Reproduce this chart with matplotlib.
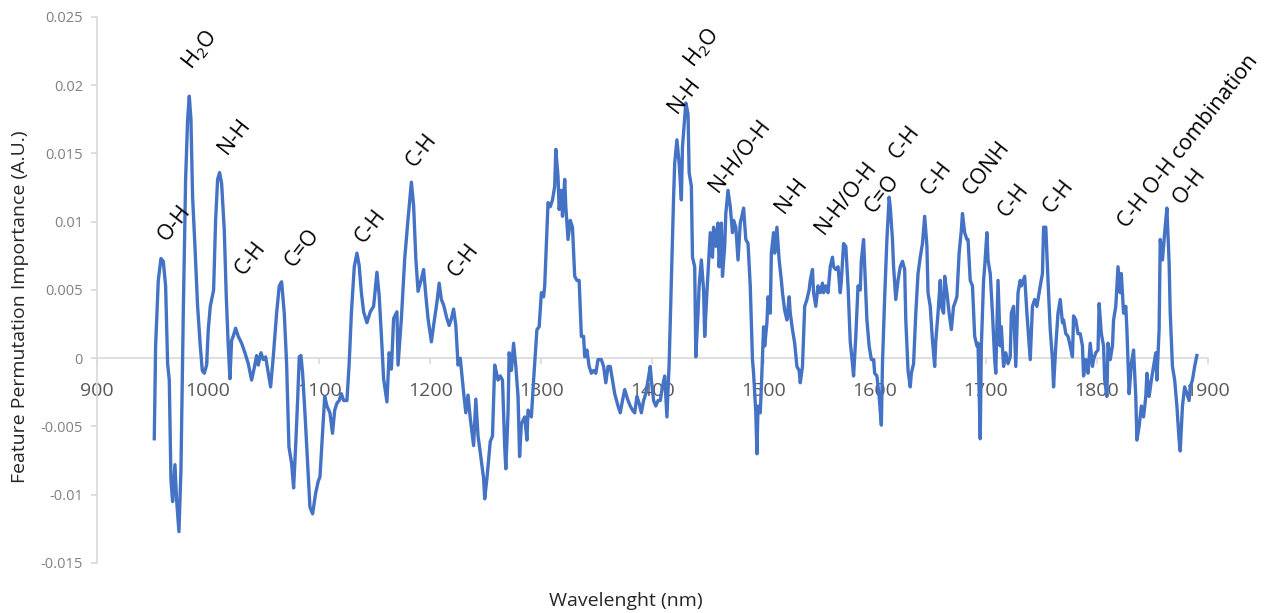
import numpy as np
import matplotlib
matplotlib.use('Agg')
import matplotlib.pyplot as plt

plt.rcParams['font.family'] = ['Open Sans', 'DejaVu Sans']
plt.rcParams['mathtext.default'] = 'regular'

# spectrum (nm, A.U.)
wavelength = [
    951.6, 952.8, 955.2, 957.6, 959.7, 961.8, 963.6, 965.1, 966.6, 968.1,
    970.2, 971.7, 973.8, 975.6, 977.7, 979.8, 981.6, 983.1, 984.6, 986.1,
    988.2, 990.6, 993.0, 994.8, 996.6, 998.7, 1000.2, 1002.0, 1005.0, 1006.8,
    1008.6, 1010.4, 1012.2, 1014.6, 1016.4, 1018.2, 1019.7, 1021.2, 1023.0, 1024.8,
    1027.2, 1030.2, 1033.2, 1036.2, 1039.2, 1041.6, 1043.7, 1045.2, 1047.6, 1049.7,
    1051.8, 1054.2, 1056.3, 1058.7, 1061.7, 1064.1, 1066.2, 1068.6, 1070.7, 1072.8,
    1075.2, 1077.0, 1078.8, 1080.6, 1082.1, 1083.6, 1085.1, 1087.2, 1089.6, 1091.7,
    1094.1, 1096.8, 1099.2, 1100.7, 1103, 1105, 1107, 1109.7, 1112, 1114,
    1116, 1118, 1120, 1122, 1125, 1127, 1129, 1131.6, 1134, 1136,
    1138, 1140, 1143, 1146, 1149, 1152, 1154, 1156, 1158, 1161,
    1163, 1165, 1167, 1170, 1171, 1174, 1177, 1180, 1183, 1185,
    1187, 1189, 1192, 1194, 1196, 1198, 1201, 1203, 1206, 1208,
    1210, 1212, 1215, 1217, 1219, 1221, 1223, 1225, 1227, 1230,
    1232, 1234, 1236, 1239, 1241, 1243, 1245, 1248, 1249, 1251,
    1254, 1256, 1258, 1259.7, 1261, 1263, 1265, 1267, 1268, 1270,
    1271, 1273, 1275, 1277, 1279, 1280.4, 1282, 1285, 1287, 1288,
    1291, 1293, 1294, 1296, 1298, 1300, 1302, 1303, 1306, 1308,
    1310, 1312, 1313, 1315, 1316, 1318, 1319, 1321, 1322, 1324,
    1326, 1328, 1330, 1332, 1334, 1336, 1338, 1339, 1341, 1343,
    1345, 1347, 1349, 1351, 1354, 1356, 1358, 1360, 1362, 1364,
    1366, 1369, 1371, 1373, 1375, 1378, 1380, 1382, 1384, 1386,
    1388, 1390, 1392, 1394, 1396, 1398, 1399, 1401, 1403, 1405,
    1407, 1409, 1411, 1413, 1415, 1417, 1419, 1420, 1422, 1424,
    1426, 1427, 1429, 1430, 1432, 1433, 1435, 1436, 1438, 1439,
    1441, 1442, 1444, 1446, 1447, 1449, 1451, 1452, 1454, 1455,
    1457, 1459, 1460, 1462, 1463, 1465, 1466, 1468, 1470, 1472,
    1473, 1475, 1477, 1479, 1481, 1482, 1484, 1486, 1488, 1490,
    1491, 1493, 1494, 1495, 1497, 1498, 1500, 1501, 1503, 1504,
    1506, 1507, 1509, 1510, 1512, 1514, 1516, 1517, 1519, 1521,
    1523, 1524, 1526, 1528, 1530, 1532, 1533, 1535, 1537, 1539,
    1541, 1542, 1544, 1545, 1547, 1549, 1551, 1553, 1554, 1556,
    1558, 1560, 1562, 1563, 1565, 1567, 1569, 1570, 1572, 1574,
    1576, 1578, 1580, 1581, 1583, 1585, 1587, 1588, 1590, 1591,
    1593, 1595, 1597, 1599, 1600, 1602, 1604, 1606, 1607, 1609,
    1611, 1613, 1614, 1616, 1617, 1619, 1621, 1623, 1625, 1627,
    1628, 1630, 1632, 1633, 1635, 1637, 1639, 1641, 1643, 1645,
    1647, 1648, 1650, 1652, 1654, 1655, 1657, 1659, 1660, 1662,
    1663, 1665, 1667, 1669, 1671, 1672, 1674, 1676, 1678, 1679,
    1681, 1683, 1684, 1686, 1688, 1690, 1692, 1693, 1695, 1696,
    1698, 1699, 1701, 1702, 1704, 1706, 1708, 1709, 1711, 1713,
    1714, 1716, 1718, 1720, 1722, 1723, 1725, 1727, 1729, 1731,
    1732, 1735, 1737, 1739, 1740, 1742, 1744, 1746, 1748, 1749,
    1751, 1752, 1754, 1756, 1758, 1760, 1761, 1763, 1765, 1767,
    1769, 1770, 1772, 1774, 1776, 1778, 1779, 1781, 1783, 1785,
    1787, 1788, 1790, 1792, 1794, 1796, 1797, 1799, 1801, 1802,
    1804, 1806, 1807, 1809, 1810, 1812, 1814, 1815, 1817, 1819,
    1821, 1822, 1824, 1826, 1827, 1829, 1831, 1833, 1835, 1836,
    1838, 1840, 1842, 1844, 1845, 1847, 1849, 1851, 1853, 1854,
    1856, 1857, 1859, 1861, 1863, 1865, 1866, 1868, 1870, 1872,
    1874, 1875, 1877, 1879, 1881, 1883, 1884, 1886, 1888, 1890,
]

importance = [
    -0.0059, 0.0009, 0.0057, 0.0073, 0.0071, 0.0053, -0.0004, -0.0016, -0.0089, -0.0105,
    -0.0078, -0.0104, -0.0127, -0.0082, 0.0033, 0.0131, 0.0175, 0.0192, 0.0175, 0.0118,
    0.0082, 0.0038, 0.0009, -0.0009, -0.0011, -0.0005, 0.0021, 0.0038, 0.0050, 0.0101,
    0.0131, 0.0136, 0.0128, 0.0094, 0.0045, 0.0009, -0.0015, 0.0013, 0.0017, 0.0022,
    0.0016, 0.0011, 0.0004, -0.0004, -0.0016, -0.0007, 0.0002, -0.0005, 0.0004, -0.0001,
    0.0001, -0.0011, -0.0021, 0.0001, 0.0033, 0.0053, 0.0056, 0.0033, -0.0004, -0.0065,
    -0.0077, -0.0095, -0.0065, -0.0031, 0.0001, 0.0002, -0.0011, -0.0040, -0.0077, -0.0109,
    -0.0114, -0.0099, -0.0090, -0.0087, -0.0055, -0.0028, -0.0035, -0.0040, -0.0055, -0.0038,
    -0.0033, -0.0031, -0.0026, -0.0031, -0.0031, -0.0004, 0.0033, 0.0067, 0.0077, 0.0068,
    0.0048, 0.0034, 0.0026, 0.0034, 0.0038, 0.0063, 0.0046, 0.0017, -0.0015, -0.0032,
    0.0004, -0.0008, 0.0029, 0.0034, -0.0005, 0.0029, 0.0073, 0.0102, 0.0129, 0.0112,
    0.0073, 0.0049, 0.0058, 0.0065, 0.0046, 0.0029, 0.0012, 0.0024, 0.0041, 0.0055,
    0.0043, 0.0039, 0.0029, 0.0024, 0.0029, 0.0036, 0.0024, -0.0005, 0.0000, -0.0025,
    -0.0040, -0.0027, -0.0044, -0.0064, -0.0030, -0.0057, -0.0069, -0.0088, -0.0103, -0.0088,
    -0.0061, -0.0057, -0.0005, -0.0011, -0.0016, -0.0013, -0.0016, -0.0065, -0.0081, -0.0040,
    0.0004, -0.0009, 0.0011, -0.0006, -0.0028, -0.0072, -0.0048, -0.0043, -0.0060, -0.0038,
    -0.0043, -0.0016, -0.0004, 0.0021, 0.0023, 0.0048, 0.0045, 0.0053, 0.0114, 0.0111,
    0.0116, 0.0126, 0.0153, 0.0133, 0.0109, 0.0123, 0.0104, 0.0131, 0.0111, 0.0087,
    0.0101, 0.0096, 0.0060, 0.0057, 0.0057, 0.0016, 0.0016, 0.0001, 0.0006, -0.0006,
    -0.0011, -0.0009, -0.0011, -0.0001, -0.0001, -0.0006, -0.0018, -0.0006, -0.0006, -0.0016,
    -0.0026, -0.0035, -0.0040, -0.0031, -0.0023, -0.0031, -0.0035, -0.0038, -0.0040, -0.0028,
    -0.0033, -0.0040, -0.0031, -0.0026, -0.0016, -0.0006, -0.0016, -0.0031, -0.0035, -0.0031,
    -0.0031, -0.0021, -0.0013, -0.0043, -0.0004, 0.0057, 0.0118, 0.0143, 0.0160, 0.0143,
    0.0116, 0.0155, 0.0177, 0.0187, 0.0179, 0.0136, 0.0126, 0.0074, 0.0067, 0.0001,
    0.0033, 0.0053, 0.0072, 0.0050, 0.0016, 0.0048, 0.0077, 0.0092, 0.0074, 0.0096,
    0.0082, 0.0099, 0.0067, 0.0099, 0.0060, 0.0082, 0.0106, 0.0123, 0.0111, 0.0092,
    0.0101, 0.0096, 0.0072, 0.0099, 0.0106, 0.0110, 0.0087, 0.0084, 0.0053, -0.0001,
    -0.0011, -0.0040, -0.0070, -0.0035, -0.0040, -0.0021, 0.0023, 0.0009, 0.0026, 0.0045,
    0.0033, 0.0077, 0.0092, 0.0077, 0.0096, 0.0072, 0.0057, 0.0048, 0.0035, 0.0028,
    0.0045, 0.0033, 0.0021, 0.0011, -0.0006, -0.0009, -0.0018, -0.0006, 0.0038, 0.0043,
    0.0050, 0.0057, 0.0065, 0.0048, 0.0038, 0.0053, 0.0048, 0.0055, 0.0048, 0.0053,
    0.0048, 0.0067, 0.0074, 0.0067, 0.0065, 0.0067, 0.0048, 0.0057, 0.0084, 0.0082,
    0.0053, 0.0012, -0.0004, -0.0013, 0.0016, 0.0053, 0.0050, 0.0072, 0.0087, 0.0067,
    0.0028, 0.0009, -0.0001, -0.0001, -0.0011, -0.0013, -0.0028, -0.0049, -0.0004, 0.0045,
    0.0087, 0.0118, 0.0111, 0.0087, 0.0067, 0.0043, 0.0057, 0.0067, 0.0071, 0.0065,
    0.0028, -0.0009, -0.0021, -0.0011, -0.0004, 0.0033, 0.0062, 0.0074, 0.0084, 0.0104,
    0.0082, 0.0048, 0.0038, 0.0013, -0.0006, 0.0013, 0.0033, 0.0057, 0.0038, 0.0033,
    0.0060, 0.0048, 0.0033, 0.0021, 0.0038, 0.0040, 0.0045, 0.0077, 0.0094, 0.0106,
    0.0092, 0.0087, 0.0087, 0.0057, 0.0053, 0.0016, 0.0009, 0.0011, -0.0059, 0.0009,
    0.0057, 0.0067, 0.0092, 0.0072, 0.0062, 0.0033, -0.0001, -0.0011, 0.0057, 0.0009,
    0.0023, -0.0006, 0.0004, -0.0004, 0.0001, 0.0033, 0.0038, -0.0006, 0.0048, 0.0057,
    0.0053, 0.0060, 0.0033, 0.0011, -0.0001, 0.0038, 0.0043, 0.0038, 0.0048, 0.0053,
    0.0062, 0.0096, 0.0096, 0.0057, 0.0021, -0.0001, -0.0021, 0.0009, 0.0033, 0.0043,
    0.0026, 0.0028, 0.0018, 0.0016, 0.0009, 0.0001, 0.0031, 0.0028, 0.0018, 0.0018,
    0.0009, -0.0013, -0.0001, -0.0011, 0.0011, -0.0006, -0.0001, 0.0004, 0.0006, 0.0040,
    0.0018, 0.0009, -0.0016, -0.0028, 0.0011, -0.0001, 0.0009, 0.0028, 0.0038, 0.0067,
    0.0048, 0.0062, 0.0033, 0.0038, 0.0021, -0.0026, -0.0004, 0.0006, -0.0028, -0.0060,
    -0.0050, -0.0035, -0.0043, -0.0028, -0.0011, -0.0028, -0.0016, -0.0006, 0.0004, -0.0016,
    0.0021, 0.0087, 0.0072, 0.0092, 0.0110, 0.0070, 0.0033, -0.0006, -0.0016, -0.0035,
    -0.0060, -0.0068, -0.0035, -0.0021, -0.0026, -0.0031, -0.0021, -0.0016, -0.0006, 0.0002,
]

# band assignments written above the peaks
band_labels = ['O-H', 'H$_2$O', 'N-H', 'C-H', 'C=O', 'C-H', 'C-H', 'C-H',
               'N-H', 'H$_2$O', 'N-H/O-H', 'N-H', 'N-H/O-H', 'C=O', 'C-H', 'C-H',
               'CONH', 'C-H', 'C-H', 'C-H O-H combination', 'O-H']
band_wl = [963, 985, 1017, 1032, 1077, 1140, 1186, 1224,
           1422, 1437, 1459, 1518, 1554, 1599, 1621, 1650,
           1687, 1719, 1759, 1827, 1876]
band_val = [0.0085, 0.0211, 0.0149, 0.0060, 0.0066, 0.0084, 0.0139, 0.0059,
            0.0179, 0.0212, 0.0121, 0.0106, 0.0090, 0.0106, 0.0145, 0.0119,
            0.0119, 0.0103, 0.0106, 0.0095, 0.0112]

yticks = [-0.015, -0.01, -0.005, 0, 0.005, 0.01, 0.015, 0.02, 0.025]
ytick_labels = ['-0.015', '-0.01', '-0.005', '0', '0.005', '0.01', '0.015', '0.02', '0.025']
xticks = [900, 1000, 1100, 1200, 1300, 1400, 1500, 1600, 1700, 1800, 1900]

fig = plt.figure(figsize=(12.64, 6.13), dpi=100)
ax = fig.add_axes([0.0767, 0.0816, 0.8790, 0.8907])

# line on top of the axis and its tick labels, as in the reference
ax.plot(wavelength, importance, color='#4472C4', lw=2.4, solid_joinstyle='round', zorder=3)

for lab, x, y in zip(band_labels, band_wl, band_val):
    ax.text(x, y, lab, rotation=52, rotation_mode='anchor', ha='left', va='baseline',
            fontsize=15.5, color='black')

ax.set_xlim(900, 1900)
ax.set_ylim(-0.015, 0.025)
ax.set_xticks(xticks)
ax.set_yticks(yticks)
ax.set_yticklabels(ytick_labels)

for s in ['top', 'right']:
    ax.spines[s].set_visible(False)
ax.spines['bottom'].set_position(('data', 0))
ax.spines['bottom'].set_color('#d9d9d9')
ax.spines['left'].set_color('#d9d9d9')
ax.spines['bottom'].set_linewidth(1.2)
ax.spines['left'].set_linewidth(1.2)

ax.tick_params(axis='y', length=4, width=1.2, color='#d9d9d9', labelsize=10.5,
               labelcolor='#808080', pad=6)
ax.tick_params(axis='x', length=4, width=1.2, color='#d9d9d9', labelsize=14,
               labelcolor='#595959', pad=13)

fig.text(0.016, 0.50, 'Feature Permutation Importance (A.U.)', rotation=90,
         ha='center', va='center', fontsize=14, color='#262626')
fig.text(0.495, 0.020, 'Wavelenght (nm)', ha='center', va='center',
         fontsize=14, color='#262626')

fig.savefig('out.png', dpi=100)
